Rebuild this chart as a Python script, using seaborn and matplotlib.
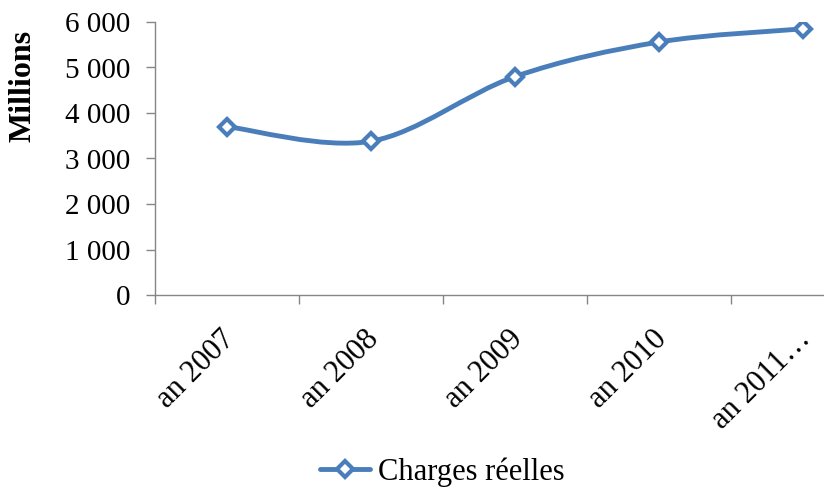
import matplotlib
matplotlib.use('Agg')
import matplotlib.pyplot as plt
import matplotlib.transforms as mtransforms
from matplotlib.path import Path
from matplotlib.patches import PathPatch
from matplotlib.lines import Line2D
import seaborn as sns

# data
years = ["an 2007", "an 2008", "an 2009", "an 2010", "an 2011\u2026"]
charges = [3700, 3380, 4800, 5560, 5850]
y_ticks = [0, 1000, 2000, 3000, 4000, 5000, 6000]
y_tick_labels = ["0", "1 000", "2 000", "3 000", "4 000", "5 000", "6 000"]
series_name = "Charges réelles"

blue = "#4a7ebb"
gray = "#868686"

sns.set_style("white")
plt.rcParams['font.family'] = ['Liberation Serif', 'DejaVu Serif']
plt.rcParams['text.color'] = 'black'
plt.rcParams['xtick.color'] = 'black'
plt.rcParams['ytick.color'] = 'black'
plt.rcParams['axes.labelcolor'] = 'black'

fig = plt.figure(figsize=(8.24, 4.94), dpi=100)
ax = fig.add_axes([155 / 824, 1 - 295 / 494, (824 - 155) / 824, (295 - 22) / 494])

xs = list(range(len(charges)))

# smoothed line, Excel style bezier (control points at 1/6 of neighbour chord)
pts = list(zip(xs, charges))
verts = [pts[0]]
codes = [Path.MOVETO]
for i in range(len(pts) - 1):
    p0 = pts[i - 1] if i > 0 else pts[i]
    p1 = pts[i]
    p2 = pts[i + 1]
    p3 = pts[i + 2] if i + 2 < len(pts) else pts[i + 1]
    c1 = (p1[0] + (p2[0] - p0[0]) / 6, p1[1] + (p2[1] - p0[1]) / 6)
    c2 = (p2[0] - (p3[0] - p1[0]) / 6, p2[1] - (p3[1] - p1[1]) / 6)
    verts += [c1, c2, p2]
    codes += [Path.CURVE4] * 3
ax.add_patch(PathPatch(Path(verts, codes), fill=False, edgecolor=blue, lw=3.5, zorder=2))

sns.lineplot(x=xs, y=charges, ax=ax, marker='D', linestyle='', color=blue,
             markersize=8, markerfacecolor='white', markeredgecolor=blue,
             markeredgewidth=3, zorder=3)

ax.set_yticks(y_ticks)
ax.set_yticklabels(y_tick_labels, fontsize=21)
ax.set_xticks(xs)
ax.set_xticklabels(years, fontsize=22, rotation=45, ha='right', va='center',
                   rotation_mode='anchor')
ax.set_xticks([x - 0.5 for x in range(len(years) + 1)], minor=True)

# limits after the ticks, otherwise the minor ticks widen the view
ax.set_xlim(-0.5, (824 - 155) / 144 - 0.5)
ax.set_ylim(0, 6000)

ax.tick_params(axis='y', which='major', direction='out', length=6.5, width=1,
               color=gray, pad=11, left=True)
ax.tick_params(axis='x', which='major', length=0, pad=29)
ax.tick_params(axis='x', which='minor', direction='out', length=6.5, width=1,
               color=gray, bottom=True)

offset = mtransforms.ScaledTranslation(0.03, 0, fig.dpi_scale_trans)
for lab in ax.get_xticklabels():
    lab.set_transform(lab.get_transform() + offset)

for side in ['top', 'right']:
    ax.spines[side].set_visible(False)
for side in ['left', 'bottom']:
    ax.spines[side].set_color(gray)
    ax.spines[side].set_linewidth(1)

ax.set_ylabel("Millions", fontsize=23, fontweight='bold', va='center')
ax.yaxis.set_label_coords(-0.197, 0.766)
ax.set_xlabel("")

handle = Line2D([], [], color=blue, lw=3.5, marker='D', markersize=8,
                markerfacecolor='white', markeredgecolor=blue, markeredgewidth=3)
fig.legend([handle], [series_name], loc='center', bbox_to_anchor=(442 / 824, 1 - 472 / 494),
           frameon=False, fontsize=22, handlelength=1.64, handletextpad=0.25)

fig.savefig("out.png", dpi=100)
